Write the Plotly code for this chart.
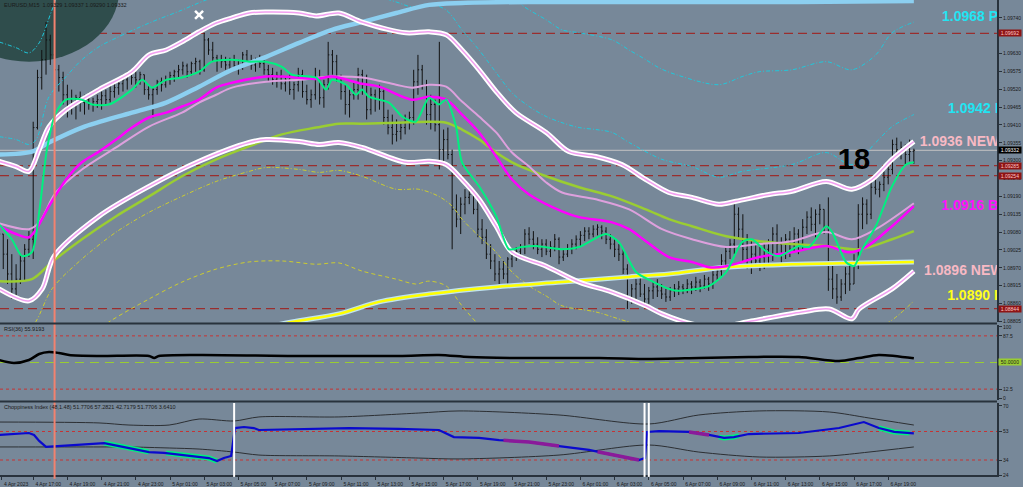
import plotly.graph_objects as go

# ---------------- DATA ----------------
bars = list(range(215))

open_ = [1.09027,1.09074,1.09012,1.08951,1.08905,1.08935,1.08991,1.09027,1.09058,1.09402,
1.09556,1.09611,1.09672,1.09626,1.09580,1.09556,1.09503,1.09488,1.09473,1.09494,
1.09479,1.09488,1.09473,1.09482,1.09488,1.09500,1.09488,1.09513,1.09525,1.09537,
1.09549,1.09565,1.09556,1.09549,1.09565,1.09519,1.09503,1.09519,1.09543,1.09534,
1.09549,1.09562,1.09574,1.09580,1.09592,1.09574,1.09599,1.09605,1.09580,1.09672,
1.09641,1.09617,1.09611,1.09605,1.09595,1.09611,1.09592,1.09586,1.09626,1.09605,
1.09595,1.09611,1.09599,1.09580,1.09565,1.09549,1.09562,1.09537,1.09549,1.09519,
1.09534,1.09565,1.09513,1.09488,1.09503,1.09556,1.09494,1.09534,1.09626,1.09605,
1.09556,1.09513,1.09473,1.09503,1.09519,1.09565,1.09534,1.09457,1.09503,1.09488,
1.09513,1.09433,1.09402,1.09381,1.09390,1.09402,1.09420,1.09433,1.09543,1.09580,
1.09534,1.09442,1.09473,1.09411,1.09334,1.09365,1.09319,1.09150,1.09120,1.09166,
1.09187,1.09196,1.09150,1.09089,1.09064,1.09012,1.08991,1.08951,1.08966,1.08951,
1.08997,1.09009,1.09021,1.09034,1.09074,1.09058,1.09043,1.09027,1.09043,1.09021,
1.09034,1.09058,1.09003,1.09012,1.09027,1.09043,1.09058,1.09070,1.09083,1.09074,
1.09089,1.09095,1.09083,1.09058,1.09043,1.09027,1.09012,1.08966,1.08874,1.08905,
1.08920,1.08889,1.08874,1.08899,1.08911,1.08899,1.08889,1.08880,1.08899,1.08905,
1.08911,1.08905,1.08920,1.08911,1.08926,1.08914,1.08935,1.08920,1.08948,1.08960,
1.08991,1.09021,1.09043,1.09135,1.09089,1.09027,1.08997,1.09012,1.08991,1.09003,
1.09027,1.09012,1.09074,1.09043,1.09012,1.09058,1.09027,1.09074,1.09043,1.09095,
1.09126,1.09104,1.09135,1.09150,1.09095,1.08935,1.08905,1.08880,1.08920,1.08951,
1.08920,1.08991,1.09135,1.09166,1.09135,1.09218,1.09212,1.09227,1.09249,1.09273,
1.09350,1.09334,1.09341,1.09319,1.09329]

high_ = [1.09104,1.09074,1.09058,1.09012,1.08981,1.09012,1.09043,1.09083,1.09420,1.09580,
1.09641,1.09727,1.09688,1.09672,1.09595,1.09574,1.09534,1.09519,1.09503,1.09513,
1.09503,1.09509,1.09494,1.09503,1.09513,1.09519,1.09534,1.09549,1.09556,1.09565,
1.09574,1.09580,1.09574,1.09574,1.09565,1.09534,1.09525,1.09549,1.09556,1.09562,
1.09574,1.09580,1.09595,1.09605,1.09599,1.09605,1.09617,1.09611,1.09694,1.09678,
1.09666,1.09626,1.09626,1.09620,1.09617,1.09626,1.09611,1.09635,1.09641,1.09626,
1.09617,1.09626,1.09617,1.09595,1.09586,1.09574,1.09580,1.09556,1.09565,1.09543,
1.09586,1.09580,1.09534,1.09519,1.09586,1.09580,1.09549,1.09666,1.09641,1.09626,
1.09565,1.09534,1.09519,1.09543,1.09586,1.09580,1.09565,1.09525,1.09519,1.09534,
1.09519,1.09457,1.09442,1.09427,1.09420,1.09442,1.09451,1.09580,1.09626,1.09595,
1.09549,1.09503,1.09488,1.09666,1.09396,1.09402,1.09334,1.09196,1.09187,1.09212,
1.09227,1.09212,1.09181,1.09120,1.09089,1.09043,1.09012,1.08991,1.08991,1.09003,
1.09021,1.09034,1.09043,1.09089,1.09095,1.09083,1.09064,1.09058,1.09058,1.09052,
1.09074,1.09064,1.09027,1.09043,1.09058,1.09070,1.09083,1.09095,1.09095,1.09101,
1.09104,1.09101,1.09095,1.09074,1.09058,1.09043,1.09027,1.08981,1.08920,1.08935,
1.08942,1.08920,1.08911,1.08929,1.08935,1.08920,1.08905,1.08911,1.08920,1.08929,
1.08920,1.08935,1.08929,1.08942,1.08935,1.08948,1.08942,1.08960,1.08972,1.09012,
1.09034,1.09058,1.09166,1.09156,1.09135,1.09074,1.09058,1.09043,1.09034,1.09043,
1.09058,1.09095,1.09104,1.09064,1.09074,1.09083,1.09095,1.09089,1.09120,1.09144,
1.09156,1.09150,1.09166,1.09150,1.09187,1.08991,1.08951,1.08935,1.08972,1.08981,
1.09012,1.09166,1.09187,1.09181,1.09236,1.09249,1.09236,1.09267,1.09288,1.09365,
1.09371,1.09359,1.09350,1.09365,1.09337]

low_ = [1.08981,1.08966,1.08920,1.08874,1.08880,1.08920,1.08929,1.09003,1.08997,1.09396,
1.09519,1.09565,1.09595,1.09549,1.09513,1.09473,1.09433,1.09442,1.09427,1.09451,
1.09442,1.09457,1.09451,1.09463,1.09457,1.09473,1.09479,1.09494,1.09503,1.09513,
1.09519,1.09534,1.09525,1.09534,1.09503,1.09488,1.09433,1.09503,1.09513,1.09525,
1.09534,1.09543,1.09556,1.09565,1.09556,1.09562,1.09574,1.09565,1.09574,1.09626,
1.09605,1.09574,1.09586,1.09580,1.09574,1.09580,1.09565,1.09580,1.09592,1.09580,
1.09574,1.09586,1.09565,1.09543,1.09534,1.09525,1.09519,1.09513,1.09503,1.09488,
1.09513,1.09494,1.09473,1.09463,1.09488,1.09473,1.09463,1.09519,1.09565,1.09543,
1.09488,1.09442,1.09433,1.09488,1.09488,1.09503,1.09427,1.09442,1.09451,1.09457,
1.09411,1.09381,1.09350,1.09359,1.09365,1.09381,1.09396,1.09411,1.09503,1.09519,
1.09411,1.09396,1.09390,1.09273,1.09288,1.09304,1.09027,1.09095,1.09074,1.09135,
1.09166,1.09135,1.09064,1.09043,1.08997,1.08966,1.08929,1.08920,1.08935,1.08920,
1.08972,1.08991,1.08997,1.09012,1.09043,1.09027,1.09012,1.09003,1.09009,1.09003,
1.09021,1.08981,1.08991,1.09003,1.09012,1.09027,1.09034,1.09052,1.09058,1.09064,
1.09070,1.09058,1.09043,1.09027,1.09003,1.08991,1.08951,1.08843,1.08859,1.08874,
1.08880,1.08859,1.08859,1.08874,1.08880,1.08874,1.08865,1.08868,1.08880,1.08886,
1.08889,1.08892,1.08889,1.08899,1.08895,1.08905,1.08899,1.08905,1.08929,1.08942,
1.08972,1.08997,1.09012,1.09058,1.08991,1.08966,1.08951,1.08972,1.08960,1.08966,
1.08981,1.08991,1.09012,1.08981,1.08997,1.09003,1.09021,1.09012,1.09027,1.09074,
1.09083,1.09064,1.09104,1.09074,1.08899,1.08874,1.08859,1.08868,1.08889,1.08899,
1.08920,1.08966,1.09089,1.09104,1.09120,1.09196,1.09187,1.09206,1.09227,1.09258,
1.09310,1.09304,1.09288,1.09298,1.09290]

close_ = [1.09074,1.09012,1.08951,1.08905,1.08935,1.08991,1.09027,1.09058,1.09402,1.09556,
1.09611,1.09672,1.09626,1.09580,1.09556,1.09503,1.09488,1.09473,1.09494,1.09479,
1.09488,1.09473,1.09482,1.09488,1.09500,1.09488,1.09513,1.09525,1.09537,1.09549,
1.09565,1.09556,1.09549,1.09565,1.09519,1.09503,1.09519,1.09543,1.09534,1.09549,
1.09562,1.09574,1.09580,1.09592,1.09574,1.09599,1.09605,1.09580,1.09672,1.09641,
1.09617,1.09611,1.09605,1.09595,1.09611,1.09592,1.09586,1.09626,1.09605,1.09595,
1.09611,1.09599,1.09580,1.09565,1.09549,1.09562,1.09537,1.09549,1.09519,1.09534,
1.09565,1.09513,1.09488,1.09503,1.09556,1.09494,1.09534,1.09626,1.09605,1.09556,
1.09513,1.09473,1.09503,1.09519,1.09565,1.09534,1.09457,1.09503,1.09488,1.09513,
1.09433,1.09402,1.09381,1.09390,1.09402,1.09420,1.09433,1.09543,1.09580,1.09534,
1.09442,1.09473,1.09411,1.09334,1.09365,1.09319,1.09150,1.09120,1.09166,1.09187,
1.09196,1.09150,1.09089,1.09064,1.09012,1.08991,1.08951,1.08966,1.08951,1.08997,
1.09009,1.09021,1.09034,1.09074,1.09058,1.09043,1.09027,1.09043,1.09021,1.09034,
1.09058,1.09003,1.09012,1.09027,1.09043,1.09058,1.09070,1.09083,1.09074,1.09089,
1.09095,1.09083,1.09058,1.09043,1.09027,1.09012,1.08966,1.08874,1.08905,1.08920,
1.08889,1.08874,1.08899,1.08911,1.08899,1.08889,1.08880,1.08899,1.08905,1.08911,
1.08905,1.08920,1.08911,1.08926,1.08914,1.08935,1.08920,1.08948,1.08960,1.08991,
1.09021,1.09043,1.09135,1.09089,1.09027,1.08997,1.09012,1.08991,1.09003,1.09027,
1.09012,1.09074,1.09043,1.09012,1.09058,1.09027,1.09074,1.09043,1.09095,1.09126,
1.09104,1.09135,1.09150,1.09095,1.08935,1.08905,1.08880,1.08920,1.08951,1.08920,
1.08991,1.09135,1.09166,1.09135,1.09218,1.09212,1.09227,1.09249,1.09273,1.09350,
1.09334,1.09341,1.09319,1.09328,1.09332]

# upper / lower white envelope
ub_x = [0,4,7,9.4,11.7,15.7,23.4,31.1,35.1,39.1,42.8,46.8,50.8,54.5,58.5,62.5,70.2,74.2,79.5,84.9,
        95.2,100.6,104.6,108.3,112.3,116.3,120.9,128.0,133.3,139.6,145.7,151.3,156.7,162.1,168.4,172.4,180.1,185.5,193.5,199.5,
        204.2,208.9,214]
ub_y = [1.09298,1.09282,1.09267,1.09334,1.09405,1.09457,1.09519,1.09574,1.09626,1.09641,1.09666,1.09697,1.09724,1.09740,1.09755,1.09758,1.09755,1.09746,1.09755,1.09727,
        1.09694,1.09697,1.09688,1.09641,1.09580,1.09513,1.09448,1.09387,1.09328,1.09313,1.09288,1.09242,1.09202,1.09187,1.09166,1.09175,1.09196,1.09206,1.09236,1.09212,
        1.09242,1.09304,1.09359]
lb_x = [0,7,10.1,12.9,23.4,35.1,46.8,58.5,62.5,70.2,74.9,79.5,84.9,95.2,100.6,104.6,108.3,112.3,116.3,120.0,
        128.0,135.7,143.4,151.3,155.1,162.1,168.4,176,187.8,194.2,199.5,201.2,208.9,214]
lb_y = [1.08905,1.08868,1.08905,1.09006,1.09129,1.09221,1.09298,1.09356,1.09365,1.09359,1.09350,1.09356,1.09341,1.09295,1.09298,1.09288,1.09242,1.09181,1.09098,1.09018,
        1.08975,1.08926,1.08895,1.08853,1.08828,1.08797,1.08788,1.08806,1.08834,1.08843,1.08813,1.08843,1.08905,1.08960]

# sky-blue long MA
sky_x = [0,7.7,11.7,19.4,31.1,39.1,46.8,54.5,62.5,70.2,77.9,84.9,92.9,100.6,108.3,124,155.1,187.1,214]
sky_y = [1.09319,1.09328,1.09356,1.09402,1.09448,1.09479,1.09528,1.09580,1.09620,1.09663,1.09703,1.09727,1.09755,1.09780,1.09786,1.09789,1.09789,1.09789,1.09792]

# magenta MA
mag_x = [0,4,7,8.7,11.7,15.7,19.4,23.4,27.4,31.1,35.1,39.1,42.8,46.8,50.8,54.5,62.5,66.2,74.2,77.9,
         84.9,88.9,96.6,100.6,104.6,108.3,112.3,116.3,120.0,124.0,131.7,135.7,143.4,147.4,151.3,156.7,162.1,166.1,170.1,177.8,
         185.5,193.5,198.8,202.8,208.9,214]
mag_y = [1.09098,1.09074,1.09064,1.09089,1.09160,1.09242,1.09295,1.09328,1.09365,1.09402,1.09433,1.09448,1.09467,1.09488,1.09525,1.09540,1.09559,1.09559,1.09552,1.09559,
         1.09537,1.09528,1.09488,1.09497,1.09488,1.09442,1.09387,1.09313,1.09242,1.09196,1.09144,1.09126,1.09110,1.09089,1.09052,1.09003,1.08988,1.08972,1.08975,1.09003,
         1.09018,1.09037,1.09018,1.09034,1.09098,1.09160]

# plum MA
plum_x = [0,7,9.4,13.3,19.4,27.4,35.1,42.8,46.8,50.8,54.5,62.5,70.2,77.9,84.9,92.9,96.6,100.6,104.6,108.3,
          112.3,116.3,120.0,124.0,128.0,131.7,139.6,147.4,155.1,162.1,170.1,177.8,185.5,193.5,199.5,205.1,214]
plum_y = [1.09107,1.09089,1.09110,1.09202,1.09273,1.09341,1.09405,1.09448,1.09479,1.09503,1.09525,1.09543,1.09549,1.09559,1.09556,1.09534,1.09525,1.09534,1.09528,1.09482,
          1.09436,1.09387,1.09325,1.09282,1.09233,1.09202,1.09181,1.09150,1.09089,1.09058,1.09034,1.09043,1.09052,1.09080,1.09058,1.09089,1.09169]

# yellow-green MA
yg_x = [0,7.7,12.4,19.4,27.4,35.1,42.8,50.8,58.5,66.2,74.2,79.5,84.9,92.9,100.6,104.6,108.3,112.3,116.3,120.0,
        128.0,135.7,143.4,151.3,156.7,162.1,170.1,177.8,185.5,193.5,201.2,208.9,214]
yg_y = [1.08929,1.08935,1.08988,1.09058,1.09129,1.09190,1.09252,1.09304,1.09344,1.09381,1.09402,1.09414,1.09414,1.09417,1.09420,1.09417,1.09396,1.09365,1.09325,1.09295,
        1.09252,1.09218,1.09190,1.09150,1.09120,1.09098,1.09067,1.09052,1.09043,1.09037,1.09027,1.09058,1.09083]

# fast green MA
grn_x = [0,3,5.4,7.7,9.4,11.2,13.3,15.7,19.4,21.8,25.7,31.1,33.5,35.8,39.1,42.8,46.8,49.8,54.5,58.5,
         62.5,66.2,68.5,74.2,76.5,77.9,81.2,83.5,84.9,86.5,91.2,94.3,97.5,100.6,102.9,104.6,106.9,108.3,112.3,116.3,
         119.3,122.3,125.6,131.7,135.7,142.0,145.0,149.0,152.7,156.7,158.4,166.1,170.1,173.8,176.1,179.4,182.5,187.1,189.5,193.5,
         194.9,198.1,200.0,201.9,205.1,208.9,212.2,214]
grn_y = [1.09104,1.09058,1.09006,1.09018,1.09141,1.09334,1.09448,1.09488,1.09488,1.09473,1.09473,1.09519,1.09549,1.09525,1.09549,1.09556,1.09574,1.09605,1.09611,1.09605,
         1.09605,1.09589,1.09565,1.09556,1.09519,1.09549,1.09534,1.09503,1.09519,1.09497,1.09479,1.09436,1.09420,1.09494,1.09473,1.09488,1.09405,1.09295,1.09221,1.09129,
         1.09027,1.09034,1.09037,1.09027,1.09034,1.09074,1.09049,1.08957,1.08929,1.08905,1.08899,1.08914,1.08957,1.09049,1.09058,1.09021,1.09006,1.09037,1.09034,1.09098,
         1.09080,1.08988,1.08975,1.09027,1.09098,1.09221,1.09288,1.09295]

# yellow long MA
yel_x = [60.8,68.5,79.5,88.9,100.6,116.3,131.7,147.4,156.7,170.1,185.5,201.2,214]
yel_y = [1.08782,1.08803,1.08828,1.08865,1.08889,1.08911,1.08926,1.08942,1.08951,1.08972,1.08981,1.08985,1.08988]

# cyan dotted channels
c1_x = [0,4,7,9.4,12.4,14.5,30,80,110,119.3,122.3,128,131.7,135.7,143.4,147.4,151.3,154.4,158.4,168.4,
        173.8,177.8,185.5,193.5,199.5,205.1,208.9,214]
c1_y = [1.09666,1.09648,1.09632,1.09663,1.09764,1.09826,1.09979,1.10041,1.09918,1.09826,1.09780,1.09734,1.09703,1.09694,1.09672,1.09641,1.09611,1.09586,1.09565,1.09534,
        1.09559,1.09574,1.09580,1.09605,1.09580,1.09626,1.09694,1.09727]
c2_x = [0,4,7,8.7,11.7,15.7,19.4,23.4,27.4,35.1,42.8,48.4,58.5,70.2,81.9,92.9,96.6,100.6,104.6,108.3,
        112.3,116.3,120,124,128,131.7,135.7,139.6,143.4,147.4,155.1,162.1,168.4,173.8,185.5,193.5,199.5,205.1,208.9,214]
c2_y = [1.09374,1.09365,1.09350,1.09365,1.09497,1.09559,1.09611,1.09651,1.09678,1.09724,1.09764,1.09795,1.09841,1.09856,1.09832,1.09789,1.09774,1.09783,1.09764,1.09703,
        1.09641,1.09571,1.09509,1.09467,1.09436,1.09417,1.09402,1.09396,1.09387,1.09356,1.09304,1.09282,1.09249,1.09267,1.09288,1.09325,1.09288,1.09356,1.09405,1.09442]

# yellow dotted channels
y1_x = [4.7,8.7,12.4,19.4,27.4,35.1,42.8,50.8,58.5,62.5,70.2,74.9,79.5,84.9,92.9,98.2,102.9,106.0,108.3,112.3,
        116.3,120,124,128,131.7,139.6,147.4,163.7,187.1,201.2,208.2,214]
y1_y = [1.08736,1.08806,1.08905,1.08997,1.09080,1.09141,1.09190,1.09236,1.09267,1.09279,1.09273,1.09264,1.09270,1.09252,1.09212,1.09212,1.09190,1.09160,1.09120,1.09067,
        1.09018,1.08957,1.08914,1.08883,1.08853,1.08834,1.08803,1.08751,1.08736,1.08767,1.08803,1.08868]
y2_x = [18.7,25.7,35.1,42.8,50.8,58.5,66.2,74.2,79.5,84.9,92.9,97.5,100.6,104.6,108.3,111.6,117]
y2_y = [1.08736,1.08803,1.08874,1.08926,1.08966,1.08988,1.08991,1.08981,1.08985,1.08960,1.08935,1.08920,1.08929,1.08914,1.08853,1.08803,1.08736]

# horizontal levels
red_levels = [1.09692, 1.09285, 1.09254, 1.08844]
last_price = 1.09332

# price axis ticks (1.09685 is hidden under the 1.09692 box in the original)
price_ticks = [1.09740,1.09630,1.09575,1.09520,1.09465,1.09410,1.09355,1.09300,1.09245,
               1.09190,1.09135,1.09080,1.09025,1.08970,1.08915,1.08860,1.08805]

# time axis
time_tick_bars = [0.5,8,16,24,32,40,48,56,64,72,80,88,96,104,112,120,128,136,144,152,160,168,176,184,192,200,208]
time_labels = ["4 Apr 2023","4 Apr 17:00","4 Apr 19:00","4 Apr 21:00","4 Apr 23:00","5 Apr 01:00","5 Apr 03:00",
               "5 Apr 05:00","5 Apr 07:00","5 Apr 09:00","5 Apr 11:00","5 Apr 13:00","5 Apr 15:00","5 Apr 17:00",
               "5 Apr 19:00","5 Apr 21:00","5 Apr 23:00","6 Apr 01:00","6 Apr 03:00","6 Apr 05:00","6 Apr 07:00",
               "6 Apr 09:00","6 Apr 11:00","6 Apr 13:00","6 Apr 15:00","6 Apr 17:00","6 Apr 19:00"]

# RSI
rsi_x = [0,3.5,7.0,9.4,11.7,14.0,16.4,23.4,35.1,36.3,37.4,46.8,70.2,93.6,102.9,110,121.6,140.4,152,163.7,
         175.4,187.1,196.5,201.2,205.8,214]
rsi_y = [53.5,49.3,53.5,62.0,64.8,63.4,60.6,59.2,59.2,56.3,59.2,60.6,59.2,59.2,60.6,57.7,56.3,56.3,54.9,56.3,
         57.7,57.7,52.1,56.3,60.6,55.9]
rsi_levels_red = [87.5, 12.5]
rsi_mid = 50

# Choppiness index
chop_x = [0,7,8.2,9.4,11,14,18.7,23.4,24.6,28.1,32.7,35.1,38.6,43.3,46.8,49.1,51,52.6,54.3,55.2,
          57.3,59.6,60.8,70.2,81.9,93.6,102.9,106.4,112.3,117,124,131,138,143.9,149.7,151.1,151.6,154.4,161.4,166.1,
          169.6,171.9,175.4,187.1,196.5,202.3,205.8,209.4,214]
chop_y = [50.7,52.0,50.7,46.7,42.7,43.3,44.0,44.7,45.3,43.3,40.7,39.3,38.7,37.3,36.0,35.3,33.3,35.3,36.7,55.3,
          56.0,55.3,54.0,54.7,55.3,54.7,54.0,49.3,48.7,47.3,46.0,43.3,40.7,37.3,34.0,35.3,52.7,53.3,52.7,50.7,
          48.7,49.3,51.3,52.0,55.3,59.3,55.3,52.7,51.8]
chop_band_x = [0,23.4,30.4,39.8,46.8,55.0,60.8,79.5,98.2,107.6,131.0,152.0,163.7,177.8,194.2,203.5,214]
chop_up_y = [59.3,58.7,57.3,57.3,61.3,60.0,62.7,62.7,65.3,66.7,64.0,58.0,64.0,66.7,66.0,62.0,57.3]
chop_lo_y = [42.7,42.7,42.7,42.0,41.3,39.3,37.3,36.7,35.3,34.7,37.3,44.0,39.3,36.0,36.7,39.3,42.7]
chop_grn_x = [24.6,28.1,32.7,35.1,None,39.1,43.3,46.8,49.1,51.0,None,168.4,169.6,171.9,173.1,None,205.8,209.4,213]
chop_grn_y = [45.3,43.3,40.7,39.3,None,38.6,37.3,36.0,35.3,33.3,None,49.3,48.7,49.3,50.2,None,55.3,52.7,52.0]
chop_pur_x = [118,124.0,131.0,None,140,143.9,149.7,None,161.4,164,166.1]
chop_pur_y = [47.1,46.0,43.3,None,39.5,37.3,34.0,None,52.7,51.6,50.7]
chop_levels = [53, 34]

# vertical markers
salmon_bar = 13
white_bars = [55, 151, 152]

# right-side text labels (the visible, clipped parts in the original)
lbl_text = ["<b>1.0968 P</b>", "<b>1.0942 I</b>", "<b>1.0936 NEW</b>", "<b>1.0916 B</b>",
            "<b>1.0896 NEW</b>", "<b>1.0890 I</b>"]
lbl_x = [220.6, 222.0, 215.4, 220.4, 216.4, 221.8]
lbl_y = [1.09740, 1.09457, 1.09356, 1.09160, 1.08960, 1.08883]
lbl_col = ["#22e4f2", "#22e4f2", "#f7b9c4", "#ff10ff", "#f7b9c4", "#ffff1a"]
count_text = ["<b>18</b>"]
count_x = [200]
count_y = [1.09298]
cross_x = [46.8]
cross_y = [1.09749]

# ---------------- FIGURE ----------------
BG = "#778899"
AX = "#28323c"
TXT = "#1a1a1a"
FONT = "Liberation Sans"

fig = go.Figure()


def add_line(x, y, color, width, dash=None, shape="spline", yaxis="y", smoothing=0.9):
    ln = dict(color=color, width=width, shape=shape)
    if dash:
        ln["dash"] = dash
    if shape == "spline":
        ln["smoothing"] = smoothing
    fig.add_trace(go.Scatter(x=x, y=y, mode="lines", xaxis="x", yaxis=yaxis, line=ln,
                             hoverinfo="skip", showlegend=False, connectgaps=False))


fig.add_trace(go.Ohlc(x=bars, open=open_, high=high_, low=low_, close=close_,
                      increasing=dict(line=dict(color="#111111", width=1)),
                      decreasing=dict(line=dict(color="#111111", width=1)),
                      tickwidth=0.28, hoverinfo="skip", showlegend=False, xaxis="x", yaxis="y"))

add_line(c1_x, c1_y, "#1fc8dc", 1, dash="4px,2px,1px,2px")
add_line(c2_x, c2_y, "#1fc8dc", 1, dash="4px,2px,1px,2px")
add_line(y1_x, y1_y, "#cccc30", 1, dash="4px,2px,1px,2px")
add_line(y2_x, y2_y, "#cccc30", 1, dash="4px,3px")
add_line(yel_x, yel_y, "#bfe3f0", 5)
add_line(yel_x, yel_y, "#ffff00", 2.5)
add_line(sky_x, sky_y, "#8ccff0", 4.5)
add_line(yg_x, yg_y, "#9acd32", 2.5)
add_line(plum_x, plum_y, "#dda0dd", 2)
add_line(mag_x, mag_y, "#ff00ff", 2.5)
for bx, by in ((ub_x, ub_y), (lb_x, lb_y)):
    add_line(bx, by, "#ffffff", 5)
    add_line(bx, by, "#f29ff0", 1.5)
add_line(grn_x, grn_y, "#00f080", 2, smoothing=0.7)

# text labels on the main chart
fig.add_trace(go.Scatter(x=lbl_x, y=lbl_y, mode="text", text=lbl_text, textposition="middle right",
                         textfont=dict(family=FONT, size=14, color=lbl_col), cliponaxis=True,
                         hoverinfo="skip", showlegend=False, xaxis="x", yaxis="y"))
fig.add_trace(go.Scatter(x=count_x, y=count_y, mode="text", text=count_text, textposition="middle center",
                         textfont=dict(family=FONT, size=29, color="#000000"),
                         hoverinfo="skip", showlegend=False, xaxis="x", yaxis="y"))
fig.add_trace(go.Scatter(x=cross_x, y=cross_y, mode="markers",
                         marker=dict(symbol="x-thin", size=8, line=dict(width=2.5, color="#ffffff")),
                         hoverinfo="skip", showlegend=False, xaxis="x", yaxis="y"))

# RSI panel
add_line(rsi_x, rsi_y, "#000000", 2.5, yaxis="y2", smoothing=0.8)

# Choppiness panel
add_line(chop_band_x, chop_up_y, "#2c2f33", 1, yaxis="y3", smoothing=0.8)
add_line(chop_band_x, chop_lo_y, "#2c2f33", 1, yaxis="y3", smoothing=0.8)
add_line(chop_grn_x, chop_grn_y, "#00f080", 5, yaxis="y3", shape="linear")
add_line(chop_x, chop_y, "#0a0acd", 2.2, yaxis="y3", shape="linear")
add_line(chop_pur_x, chop_pur_y, "#8a1a9a", 3.5, yaxis="y3", shape="linear")

# ---------------- SHAPES ----------------
shapes = []
shapes.append(dict(type="circle", xref="x", yref="y", x0=-14, x1=28.1, y0=1.09605, y1=1.10047,
                   fillcolor="#2f4d4c", line=dict(width=0), layer="below"))
for lv in red_levels:
    shapes.append(dict(type="line", xref="paper", yref="y", x0=0, x1=1, y0=lv, y1=lv,
                       line=dict(color="#9a2e2e", width=1.2, dash="9px,5px"), layer="below"))
shapes.append(dict(type="line", xref="paper", yref="y", x0=0, x1=1, y0=last_price, y1=last_price,
                   line=dict(color="#c4c4c4", width=1), layer="below"))
for lv in rsi_levels_red:
    shapes.append(dict(type="line", xref="paper", yref="y2", x0=0, x1=1, y0=lv, y1=lv,
                       line=dict(color="#c83232", width=1, dash="dot"), layer="below"))
shapes.append(dict(type="line", xref="paper", yref="y2", x0=0, x1=1, y0=rsi_mid, y1=rsi_mid,
                   line=dict(color="#9acd32", width=1, dash="9px,6px"), layer="below"))
for lv in chop_levels:
    shapes.append(dict(type="line", xref="paper", yref="y3", x0=0, x1=1, y0=lv, y1=lv,
                       line=dict(color="#c83232", width=1, dash="dot"), layer="below"))
for wb in white_bars:
    shapes.append(dict(type="line", xref="x", yref="paper", x0=wb, x1=wb, y0=-0.004, y1=0.1516,
                       line=dict(color="#ffffff", width=2)))
shapes.append(dict(type="line", xref="x", yref="paper", x0=salmon_bar, x1=salmon_bar, y0=-0.008, y1=1,
                   line=dict(color="#f2826f", width=2)))
for yy in (0.3189, 0.1547):
    shapes.append(dict(type="line", xref="paper", yref="paper", x0=0, x1=1, y0=yy, y1=yy,
                       line=dict(color=AX, width=2)))

# ---------------- ANNOTATIONS ----------------
ann = []
ann.append(dict(text="EURUSD,M15  1.09329 1.09337 1.09290 1.09332", xref="paper", yref="paper",
                x=0.002, y=0.9895, xanchor="left", yanchor="middle", showarrow=False,
                font=dict(family=FONT, size=5.5, color=TXT)))
ann.append(dict(text="RSI(36) 55.9193", xref="paper", yref="paper", x=0.002, y=0.3074,
                xanchor="left", yanchor="middle", showarrow=False, font=dict(family=FONT, size=5.5, color=TXT)))
ann.append(dict(text="Choppiness Index (48,1.48) 51.7706 57.2821 42.7179 51.7706 3.6410", xref="paper",
                yref="paper", x=0.002, y=0.1432, xanchor="left", yanchor="middle", showarrow=False,
                font=dict(family=FONT, size=5.5, color=TXT)))
box_list = [(lv, "y", "%.5f" % lv, "#8e1414", "#ffc8c8") for lv in red_levels]
box_list.append((last_price, "y", "%.5f" % last_price, "#000000", "#ffffff"))
box_list.append((rsi_mid, "y2", "50.0000", "#9acd32", "#1a1a1a"))
for yv, yr, tx, bg, fg in box_list:
    ann.append(dict(text=tx, xref="paper", yref=yr, x=1, y=yv, xanchor="left", yanchor="middle", xshift=1,
                    showarrow=False, bgcolor=bg, width=22, height=6, borderpad=0,
                    font=dict(family=FONT, size=5, color=fg)))

tickfont = dict(family=FONT, size=5, color=TXT)
yax_common = dict(side="right", showgrid=False, zeroline=False, showline=True, linecolor=AX, linewidth=2,
                  ticks="outside", ticklen=3, tickwidth=1, tickcolor=AX, tickfont=tickfont, anchor="x",
                  fixedrange=True)

fig.update_layout(
    width=1023, height=487, autosize=False,
    margin=dict(l=0, r=26, t=0, b=12, pad=0),
    paper_bgcolor=BG, plot_bgcolor=BG,
    font=dict(family=FONT, color=TXT),
    showlegend=False,
    shapes=shapes, annotations=ann,
    xaxis=dict(domain=[0, 1], anchor="y3", range=[0.234, 233.45], showgrid=False, zeroline=False,
               showline=True, linecolor=AX, linewidth=2, tickvals=time_tick_bars, ticktext=time_labels,
               ticks="outside", ticklen=3, tickcolor=AX, tickfont=tickfont, tickangle=0,
               ticklabelshift=15, rangeslider=dict(visible=False), fixedrange=True),
    yaxis=dict(domain=[0.3221, 1], range=[1.08803, 1.09795], tickvals=price_ticks,
               ticktext=["%.5f" % v for v in price_ticks], **yax_common),
    yaxis2=dict(domain=[0.1579, 0.3158], range=[-2.8, 102.8], tickvals=[0, 12.5, 87.5, 100],
                ticktext=["0", "12.5", "87.5", "100"], **yax_common),
    yaxis3=dict(domain=[0, 0.1516], range=[24, 72], tickvals=[24, 34, 53, 70],
                ticktext=["24", "34", "53", "70"], **yax_common),
)

fig.write_html("out.html", config={"displayModeBar": False},
               post_script="document.body.style.margin='0px';document.body.style.overflow='hidden';")
